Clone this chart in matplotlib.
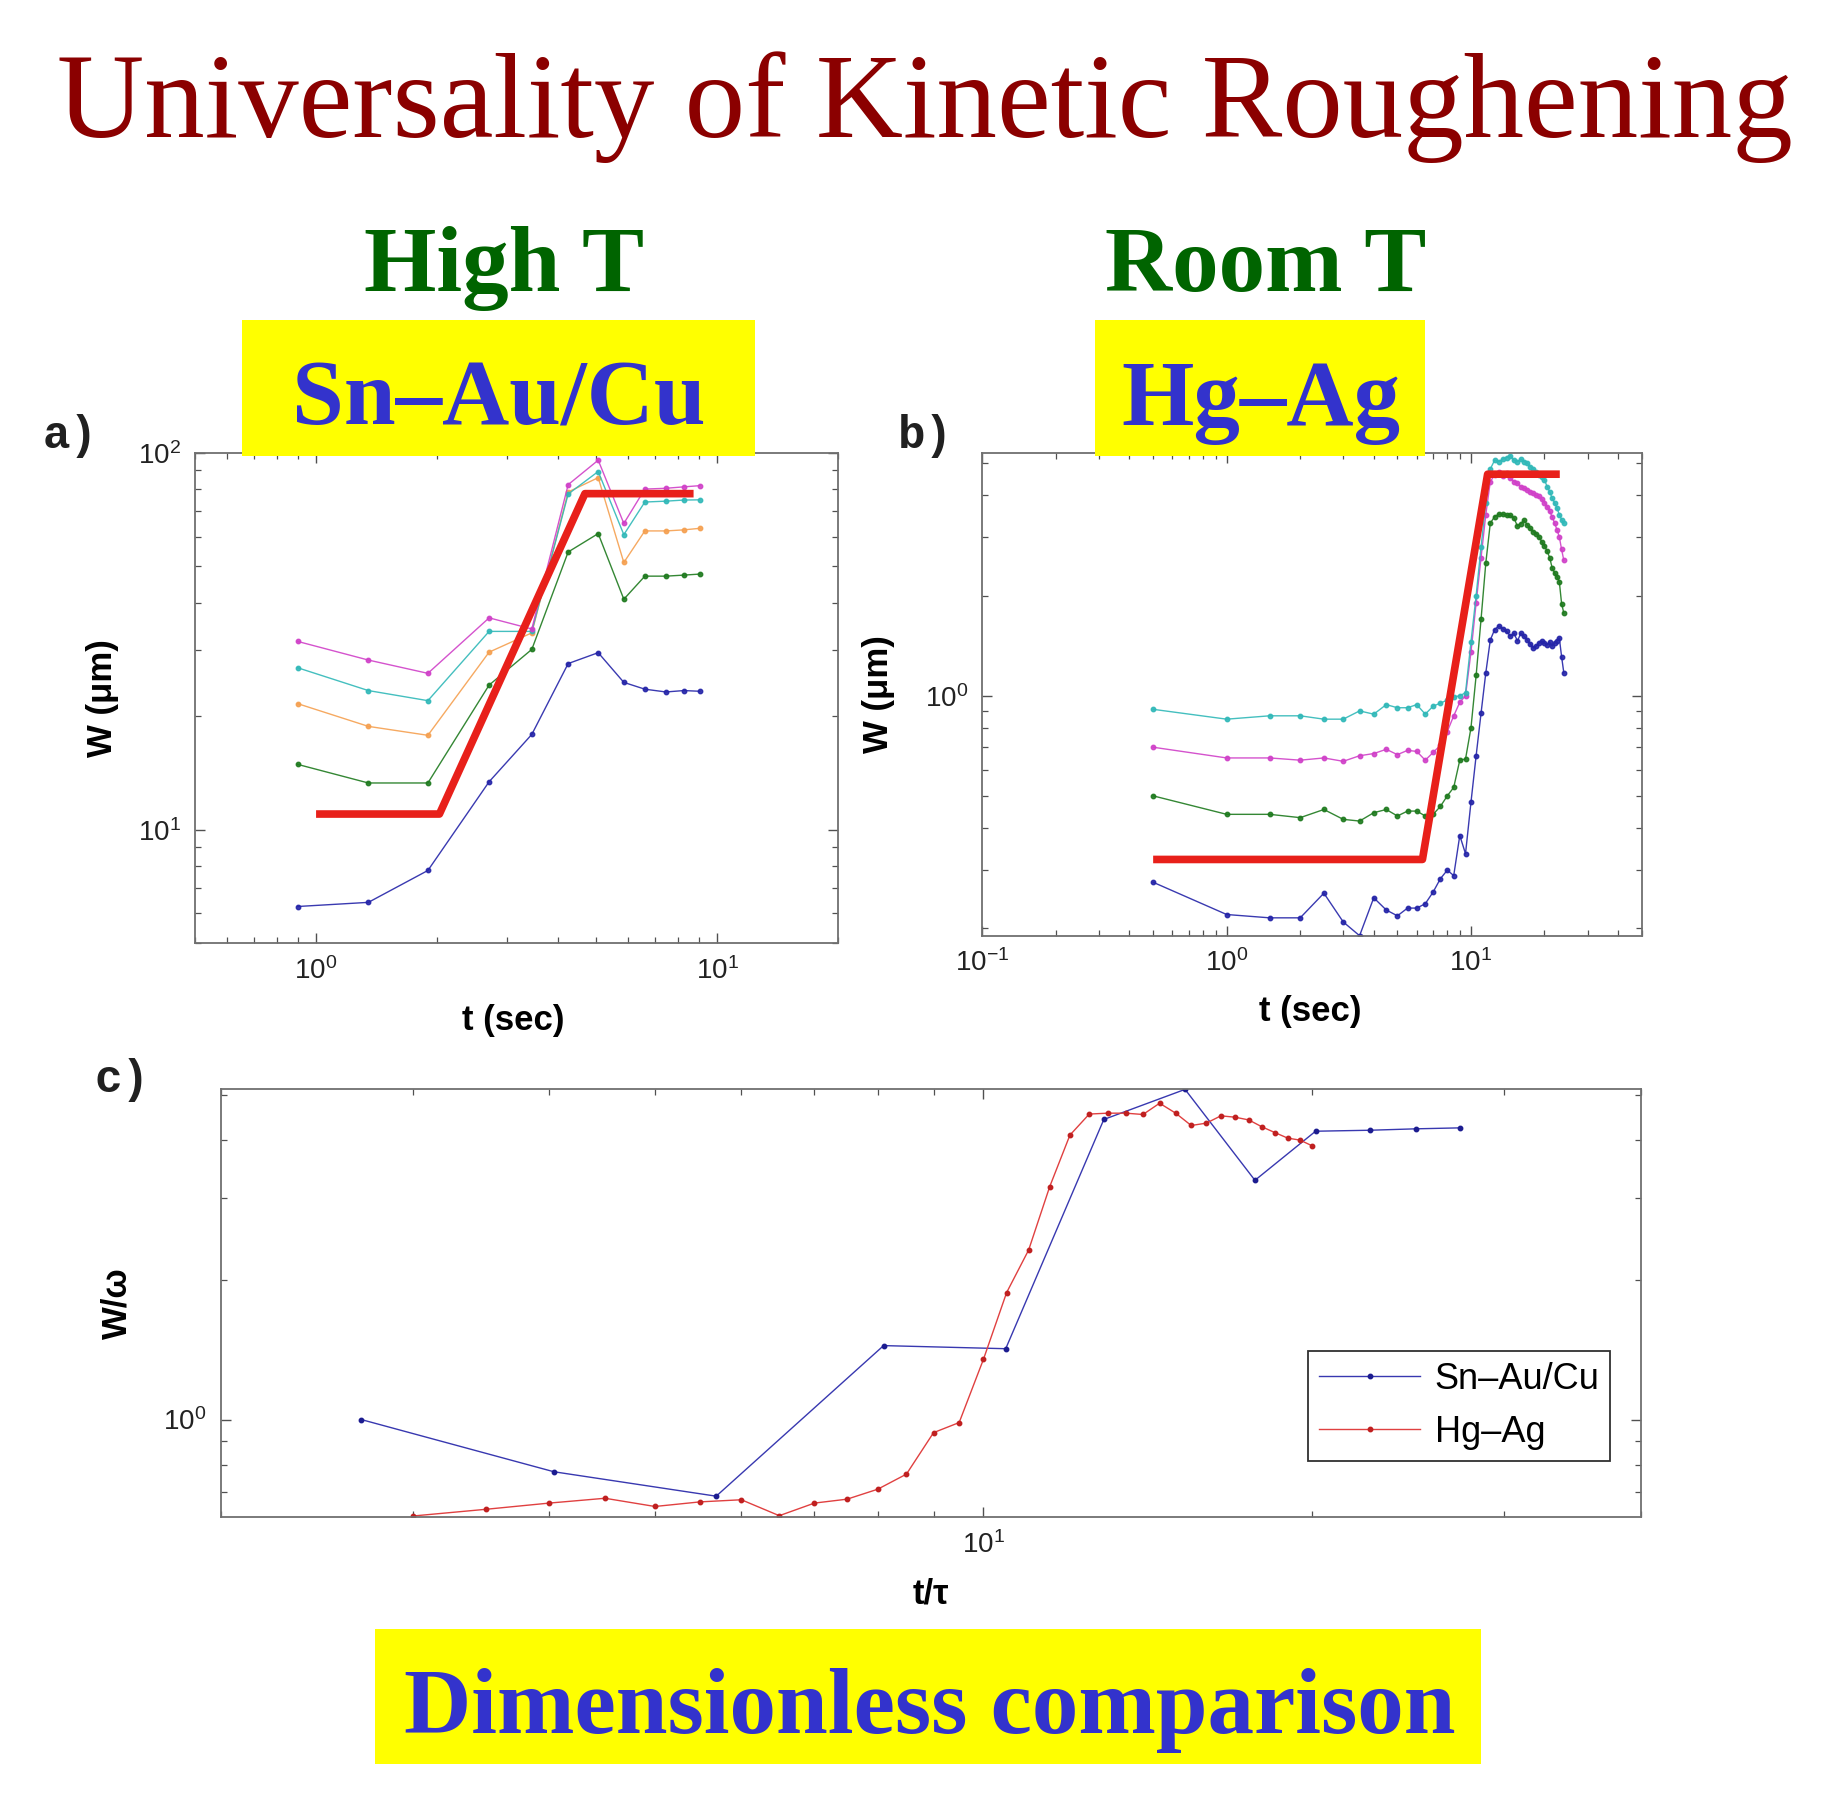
import matplotlib
matplotlib.use("Agg")
import matplotlib.pyplot as plt
import matplotlib.patches as pch
from matplotlib.ticker import NullFormatter, LogLocator

plt.rcParams['font.family'] = ['Liberation Sans', 'DejaVu Sans']

W_PX, H_PX = 1824, 1798

# ---- panel a : Sn-Au/Cu, high T ----
t_a = [0.9, 1.35, 1.9, 2.7, 3.45, 4.25, 5.05, 5.85, 6.6, 7.45, 8.25, 9.05]
blue_a = [6.25, 6.41, 7.79, 13.4, 17.9, 27.6, 29.5, 24.6, 23.6, 23.2, 23.4, 23.3]
green_a = [14.9, 13.3, 13.3, 24.2, 30.1, 54.6, 61.1, 40.9, 47.1, 47.1, 47.4, 47.7]
orange_a = [21.6, 18.8, 17.8, 29.6, 33.3, 78.8, 86.0, 51.2, 62.1, 62.1, 62.5, 63.1]
cyan_a = [26.9, 23.4, 22.0, 33.6, 33.6, 77.8, 89.3, 60.7, 74.1, 74.5, 75.0, 75.1]
magenta_a = [31.6, 28.2, 26.0, 36.5, 34.1, 82.4, 95.7, 65.0, 80.2, 80.6, 81.3, 81.9]
fit_t_a = [1.0, 2.03, 4.68, 8.73]
fit_w_a = [11.0, 11.0, 78.0, 78.0]

# ---- panel b : Hg-Ag, room T ----
t_b = [0.5, 1, 1.5, 2, 2.5, 3, 3.5, 4, 4.5, 5, 5.5, 6, 6.5, 7, 7.5, 8,
       8.5, 9, 9.5, 10, 10.5, 11, 11.5, 12, 12.5, 13, 13.5, 14, 14.5, 15,
       15.5, 16, 16.5, 17, 17.5, 18, 18.5, 19, 19.5, 20, 20.5, 21, 21.5,
       22, 22.5, 23, 23.5, 24]
cyan_b = [0.91, 0.85, 0.87, 0.87, 0.85, 0.85, 0.90, 0.88, 0.94, 0.92, 0.92,
          0.94, 0.88, 0.93, 0.95, 0.97, 0.99, 1.00, 1.02, 1.45, 2.0, 2.8,
          3.8, 4.8, 5.1, 5.05, 5.14, 5.19, 5.26, 5.1, 5.05, 5.14, 5.05, 5.0,
          4.88, 4.8, 4.7, 4.62, 4.55, 4.45, 4.25, 4.1, 3.92, 3.8, 3.66, 3.5,
          3.38, 3.3]
magenta_b = [0.70, 0.65, 0.65, 0.64, 0.65, 0.635, 0.66, 0.67, 0.69, 0.665,
             0.685, 0.68, 0.64, 0.675, 0.71, 0.78, 0.87, 0.955, 1.0, 1.35,
             1.9, 2.6, 3.5, 4.4, 4.6, 4.7, 4.57, 4.67, 4.5, 4.4, 4.35, 4.25,
             4.2, 4.15, 4.1, 4.06, 4.0, 3.97, 3.9, 3.8, 3.7, 3.58, 3.45, 3.3,
             3.15, 3.0, 2.75, 2.55]
green_b = [0.50, 0.44, 0.44, 0.43, 0.455, 0.425, 0.42, 0.445, 0.455, 0.435,
           0.45, 0.45, 0.435, 0.44, 0.465, 0.50, 0.53, 0.64, 0.645, 0.8,
           1.15, 1.7, 2.5, 3.3, 3.45, 3.51, 3.51, 3.48, 3.48, 3.42, 3.23,
           3.29, 3.37, 3.26, 3.18, 3.11, 3.07, 3.0, 2.9, 2.82, 2.72, 2.6,
           2.42, 2.34, 2.28, 2.2, 1.89, 1.77]
blue_b = [0.275, 0.22, 0.215, 0.215, 0.255, 0.209, 0.19, 0.247, 0.227, 0.218,
          0.23, 0.23, 0.237, 0.257, 0.282, 0.299, 0.288, 0.38, 0.335, 0.478,
          0.66, 0.887, 1.17, 1.47, 1.58, 1.62, 1.59, 1.56, 1.51, 1.54, 1.46,
          1.54, 1.51, 1.47, 1.43, 1.39, 1.41, 1.44, 1.46, 1.44, 1.42, 1.45,
          1.41, 1.44, 1.46, 1.49, 1.31, 1.17]
fit_t_b = [0.5, 6.33, 11.7, 23.1]
fit_w_b = [0.322, 0.322, 4.63, 4.63]

# ---- panel c : dimensionless ----
t_sn = [2.69, 4.04, 5.69, 8.10, 10.48, 12.89, 15.30, 17.73, 20.15, 22.58,
        24.92, 27.35]
w_sn = [1.0, 0.772, 0.684, 1.442, 1.42, 4.42, 5.13, 3.27, 4.17, 4.19, 4.22,
        4.24]
t_hg = [3, 3.5, 4, 4.5, 5, 5.5, 6, 6.5, 7, 7.5, 8, 8.5, 9, 9.5, 10, 10.5,
        11, 11.5, 12, 12.5, 13, 13.5, 14, 14.5, 15, 15.5, 16, 16.5, 17, 17.5,
        18, 18.5, 19, 19.5, 20]
w_hg = [0.62, 0.641, 0.661, 0.677, 0.650, 0.665, 0.672, 0.621, 0.661, 0.674,
        0.708, 0.763, 0.937, 0.985, 1.348, 1.875, 2.316, 3.17, 4.09, 4.54,
        4.56, 4.56, 4.53, 4.79, 4.56, 4.29, 4.34, 4.50, 4.47, 4.41, 4.26,
        4.14, 4.03, 3.99, 3.88]

C_BLUE = '#2424a8'
C_GREEN = '#1e7a1e'
C_ORANGE = '#f5a050'
C_CYAN = '#30b8b8'
C_MAGENTA = '#d040c8'
C_RED = '#e8201a'
YELLOW = '#ffff00'
TXT_BLUE = '#3333cc'
TXT_GREEN = '#006400'


def fx(px):
    return px / W_PX


def fy(py):
    return 1 - py / H_PX


def box(x0, y0, x1, y1):
    # pixel box (left, top, right, bottom) -> figure fraction rect
    return [fx(x0), fy(y1), (x1 - x0) / W_PX, (y1 - y0) / H_PX]


def style_axes(ax):
    ax.set_xscale('log')
    ax.set_yscale('log')
    for s in ax.spines.values():
        s.set_color('#707070')
        s.set_linewidth(1.3)
    ax.tick_params(which='both', direction='in', top=True, right=True,
                   color='#505050', labelcolor='#222222', labelsize=20)
    ax.tick_params(which='major', length=7, width=1.0, pad=10)
    ax.tick_params(which='minor', length=4, width=0.9)
    ax.xaxis.set_minor_formatter(NullFormatter())
    ax.yaxis.set_minor_formatter(NullFormatter())
    ax.xaxis.set_minor_locator(LogLocator(subs=range(2, 10), numticks=20))
    ax.yaxis.set_minor_locator(LogLocator(subs=range(2, 10), numticks=20))


def series(ax, t, w, color):
    ax.plot(t, w, color=color, lw=1.0, marker='o', ms=3.2,
            mfc=color, mec=color, alpha=0.9)


def main():
    fig = plt.figure(figsize=(W_PX / 100, H_PX / 100), dpi=100)

    # ---- panel a ----
    ax_a = fig.add_axes(box(195.3, 453, 838, 943))
    style_axes(ax_a)
    for w, c in [(blue_a, C_BLUE), (green_a, C_GREEN), (orange_a, C_ORANGE),
                 (cyan_a, C_CYAN), (magenta_a, C_MAGENTA)]:
        series(ax_a, t_a, w, c)
    ax_a.plot(fit_t_a, fit_w_a, color=C_RED, lw=5.5, solid_capstyle='butt')
    ax_a.set_xlim(0.5, 20)
    ax_a.set_ylim(5, 100)
    ax_a.set_xlabel('t (sec)', fontsize=25, fontweight='bold')
    ax_a.set_ylabel('W (μm)', fontsize=25, fontweight='bold')
    ax_a.xaxis.label.set_va('center')
    ax_a.yaxis.label.set_va('center')
    ax_a.xaxis.set_label_coords(0.494, -0.159)
    ax_a.yaxis.set_label_coords(-0.145, 0.5)

    # ---- panel b ----
    ax_b = fig.add_axes(box(982.4, 453.3, 1641.7, 935.7))
    style_axes(ax_b)
    for w, c in [(blue_b, C_BLUE), (green_b, C_GREEN),
                 (magenta_b, C_MAGENTA), (cyan_b, C_CYAN)]:
        series(ax_b, t_b, w, c)
    ax_b.plot(fit_t_b, fit_w_b, color=C_RED, lw=5.5, solid_capstyle='butt')
    ax_b.set_xlim(0.1, 50)
    ax_b.set_ylim(0.19, 5.35)
    ax_b.set_xlabel('t (sec)', fontsize=25, fontweight='bold')
    ax_b.set_ylabel('W (μm)', fontsize=25, fontweight='bold')
    ax_b.xaxis.label.set_va('center')
    ax_b.yaxis.label.set_va('center')
    ax_b.xaxis.set_label_coords(0.498, -0.158)
    ax_b.yaxis.set_label_coords(-0.158, 0.5)

    # ---- panel c ----
    ax_c = fig.add_axes(box(220.6, 1088.6, 1640.6, 1517))
    style_axes(ax_c)
    ax_c.plot(t_sn, w_sn, color='#3838b0', lw=1.0, marker='o', ms=3.2,
              mfc='#1c1c90', mec='#1c1c90', label='Sn–Au/Cu')
    ax_c.plot(t_hg, w_hg, color='#e04040', lw=1.0, marker='o', ms=3.2,
              mfc='#c02020', mec='#c02020', label='Hg–Ag')
    ax_c.set_xlim(2, 40)
    ax_c.set_ylim(0.617, 5.15)
    ax_c.set_xlabel('t/τ', fontsize=25, fontweight='bold')
    ax_c.set_ylabel('W/ω', fontsize=25, fontweight='bold')
    ax_c.xaxis.label.set_va('center')
    ax_c.yaxis.label.set_va('center')
    ax_c.xaxis.set_label_coords(0.5, -0.179)
    ax_c.yaxis.set_label_coords(-0.073, 0.5)
    leg = ax_c.legend(loc='upper left', bbox_to_anchor=(0.766, 0.3875),
                      borderaxespad=0, fontsize=26, fancybox=False,
                      edgecolor='#303030', handlelength=2.8,
                      handletextpad=0.4, labelspacing=0.5, borderpad=0.3,
                      markerscale=1.0, framealpha=1)
    leg.get_frame().set_linewidth(1.3)
    for h in leg.legend_handles:
        h.set_markevery([1])

    # ---- slide text ----
    fig.text(fx(925), fy(137), 'Universality of Kinetic Roughening',
             ha='center', va='baseline', fontsize=87,
             family='Liberation Serif', color='#8b0000')
    fig.text(fx(503.7), fy(290.8), 'High T', ha='center', va='baseline',
             fontsize=67, fontweight='bold', family='Liberation Serif',
             color=TXT_GREEN)
    fig.text(fx(1265.6), fy(290.8), 'Room T', ha='center', va='baseline',
             fontsize=67, fontweight='bold', family='Liberation Serif',
             color=TXT_GREEN)

    for (x0, y0, x1, y1) in [(242, 320, 755, 456), (1094.6, 320, 1425, 456),
                             (374.6, 1628.6, 1480.8, 1763.5)]:
        r = pch.Rectangle((fx(x0), fy(y1)), (x1 - x0) / W_PX,
                          (y1 - y0) / H_PX, transform=fig.transFigure,
                          facecolor=YELLOW, edgecolor='none', zorder=5)
        fig.patches.append(r)

    fig.text(fx(499), fy(424.6), 'Sn–Au/Cu', ha='center', va='baseline',
             fontsize=67, fontweight='bold', family='Liberation Serif',
             color=TXT_BLUE, zorder=6)
    fig.text(fx(1261), fy(424.6), 'Hg–Ag', ha='center', va='baseline',
             fontsize=67, fontweight='bold', family='Liberation Serif',
             color=TXT_BLUE, zorder=6)
    fig.text(fx(929.5), fy(1733), 'Dimensionless comparison', ha='center',
             va='baseline', fontsize=67, fontweight='bold',
             family='Liberation Serif', color=TXT_BLUE, zorder=6)

    for lab, x, y in [('a)', 70, 436), ('b)', 925, 436), ('c)', 122, 1080)]:
        fig.text(fx(x), fy(y), lab, ha='center', va='center', fontsize=33,
                 fontweight='bold', family='Liberation Mono', color='#202020')

    fig.savefig('out.png', dpi=100, facecolor='white')


if __name__ == '__main__':
    main()
